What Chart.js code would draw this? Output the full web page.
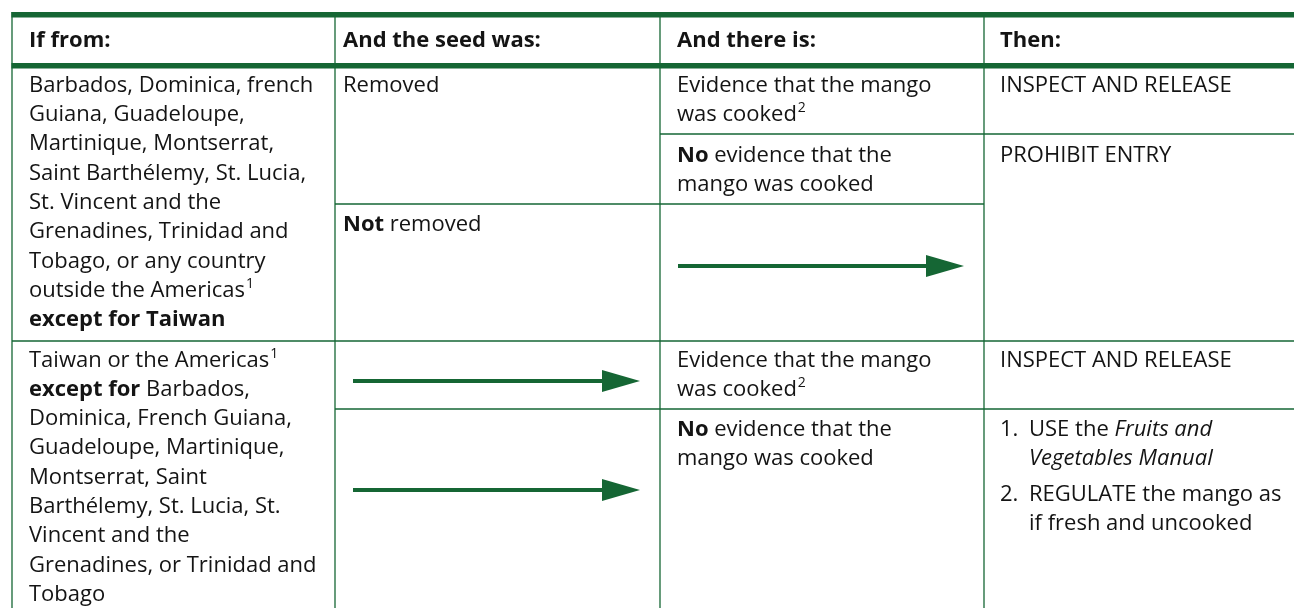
<!DOCTYPE html>
<html>
<head>
<meta charset="utf-8">
<script src="https://cdn.jsdelivr.net/npm/chart.js@4.4.0/dist/chart.umd.min.js"></script>
<style>
html,body{margin:0;padding:0;background:#fff;overflow:hidden}
#wrap{width:1294px;height:608px;position:relative}
</style>
</head>
<body>
<div id="wrap"><canvas id="c"></canvas></div>
<script>
// ---------- table content ----------
const headers = ["If from:", "And the seed was:", "And there is:", "Then:"];
const originA = ["Barbados, Dominica, french", "Guiana, Guadeloupe,", "Martinique, Montserrat,",
  "Saint Barthélemy, St. Lucia,", "St. Vincent and the", "Grenadines, Trinidad and",
  "Tobago, or any country", "outside the Americas^1", "**except for Taiwan**"];
const originB = ["Taiwan or the Americas^1", "**except for** Barbados,", "Dominica, French Guiana,",
  "Guadeloupe, Martinique,", "Montserrat, Saint", "Barthélemy, St. Lucia, St.",
  "Vincent and the", "Grenadines, or Trinidad and", "Tobago"];
const seedRemoved = ["Removed"];
const seedNotRemoved = ["**Not** removed"];
const evidenceCooked = ["Evidence that the mango", "was cooked^2"];
const evidenceNone = ["**No** evidence that the", "mango was cooked"];
const actionRelease = ["INSPECT AND RELEASE"];
const actionProhibit = ["PROHIBIT ENTRY"];
const actionSteps = [["1.", "USE the *Fruits and*", "*Vegetables Manual*"],
                     ["2.", "REGULATE the mango as", "if fresh and uncooked"]];

// ---------- layout / style ----------
const W = 1294, H = 608;
const GREEN = '#156634';
const INK = '#141414';
const FAM = '"Open Sans", "Noto Sans", sans-serif';
const SIZE = 22;
const LH = 29.3;
const colX = [12, 335, 660, 984, W];
const padX = [17, 8, 17, 16];

// cells: column, first baseline, lines
const cells = [
  {col:0, y:91.7, lines:originA},
  {col:1, y:91.7, lines:seedRemoved},
  {col:1, y:231, lines:seedNotRemoved},
  {col:2, y:91.7, lines:evidenceCooked},
  {col:2, y:161.7, lines:evidenceNone},
  {col:3, y:91.7, lines:actionRelease},
  {col:3, y:161.7, lines:actionProhibit},
  {col:0, y:366.5, lines:originB},
  {col:2, y:366.7, lines:evidenceCooked},
  {col:2, y:436, lines:evidenceNone},
  {col:3, y:366.7, lines:actionRelease}
];
const stepsY = [436, 500.7];
// horizontal rules: y, from col boundary index, to col boundary index, width
const hRules = [
  {y:14.7, a:0, b:4, w:5.5},
  {y:65.7, a:0, b:4, w:5.5},
  {y:134, a:2, b:4, w:1.3},
  {y:204, a:1, b:3, w:1.3},
  {y:341, a:0, b:4, w:1.3},
  {y:409, a:1, b:4, w:1.3}
];
// arrows: column and y
const arrows = [{col:2, y:266}, {col:1, y:381}, {col:1, y:490}];
const HEAD_L = 38, HEAD_H = 22;

// arrow head image
const head = document.createElement('canvas');
head.width = HEAD_L; head.height = HEAD_H;
(function(){
  const g = head.getContext('2d');
  g.fillStyle = GREEN;
  g.beginPath(); g.moveTo(0,0); g.lineTo(HEAD_L, HEAD_H/2); g.lineTo(0, HEAD_H); g.closePath(); g.fill();
})();

function font(style, size){
  return (style.italic ? 'italic ' : '') + (style.bold ? 'bold ' : '') + size + 'px ' + FAM;
}
function drawRich(ctx, x, y, str, forceBold){
  const parts = str.split(/(\*\*[^*]+\*\*|\*[^*]+\*|\^[0-9]+)/).filter(s => s.length);
  for (const p of parts){
    let t = p, st = {bold: !!forceBold, italic:false}, size = SIZE, dy = 0;
    if (p.startsWith('**')) { t = p.slice(2, -2); st.bold = true; }
    else if (p.startsWith('*')) { t = p.slice(1, -1); st.italic = true; }
    else if (p.startsWith('^')) { t = p.slice(1); size = 14; dy = -9; x += 1; }
    ctx.font = font(st, size);
    ctx.fillText(t, x, y + dy);
    x += ctx.measureText(t).width;
  }
}

const tablePlugin = {
  id: 'tablePlugin',
  beforeDatasetsDraw(chart){
    const ctx = chart.ctx, xs = chart.scales.x, ys = chart.scales.y;
    const px = v => xs.getPixelForValue(v), py = v => ys.getPixelForValue(v);
    ctx.save();
    ctx.fillStyle = '#fff';
    ctx.fillRect(0, 0, chart.width, chart.height);
    // vertical rules
    ctx.strokeStyle = GREEN;
    ctx.lineWidth = 1.3;
    for (let i = 0; i < 4; i++){
      ctx.beginPath(); ctx.moveTo(px(colX[i]), py(12)); ctx.lineTo(px(colX[i]), py(H)); ctx.stroke();
    }
    // horizontal rules
    for (const r of hRules){
      ctx.lineWidth = r.w;
      ctx.beginPath(); ctx.moveTo(px(colX[r.a]) - (r.w > 2 ? 0.6 : 0), py(r.y)); ctx.lineTo(px(colX[r.b]), py(r.y)); ctx.stroke();
    }
    // text
    ctx.fillStyle = INK;
    ctx.textBaseline = 'alphabetic';
    ctx.textAlign = 'left';
    headers.forEach((h, i) => drawRich(ctx, px(colX[i] + padX[i]), py(47), h, true));
    for (const c of cells){
      c.lines.forEach((ln, k) => drawRich(ctx, px(colX[c.col] + padX[c.col]), py(c.y + k * LH), ln, false));
    }
    actionSteps.forEach((s, i) => {
      const x0 = colX[3] + padX[3];
      drawRich(ctx, px(x0), py(stepsY[i]), s[0], false);
      drawRich(ctx, px(x0 + 29), py(stepsY[i]), s[1], false);
      drawRich(ctx, px(x0 + 29), py(stepsY[i] + LH), s[2], false);
    });
    ctx.restore();
  }
};

const datasets = arrows.map(a => ({
  data: [{x: colX[a.col] + 18, y: a.y}, {x: colX[a.col + 1] - 20 - HEAD_L / 2, y: a.y}],
  showLine: true,
  borderColor: GREEN,
  borderWidth: 4,
  borderCapStyle: 'butt',
  pointRadius: c => c.dataIndex === 1 ? 10 : 0,
  pointStyle: c => c.dataIndex === 1 ? head : 'circle',
  pointBackgroundColor: GREEN,
  pointBorderWidth: 0
}));

new Chart(document.getElementById('c'), {
  type: 'scatter',
  data: { datasets },
  options: {
    responsive: true,
    maintainAspectRatio: false,
    animation: false,
    events: [],
    layout: { padding: 0, autoPadding: false },
    plugins: { legend: {display:false}, tooltip: {enabled:false}, title: {display:false} },
    scales: {
      x: { type:'linear', min:0, max:W, display:false },
      y: { type:'linear', min:0, max:H, reverse:true, display:false }
    }
  },
  plugins: [tablePlugin]
});
</script>
</body>
</html>
